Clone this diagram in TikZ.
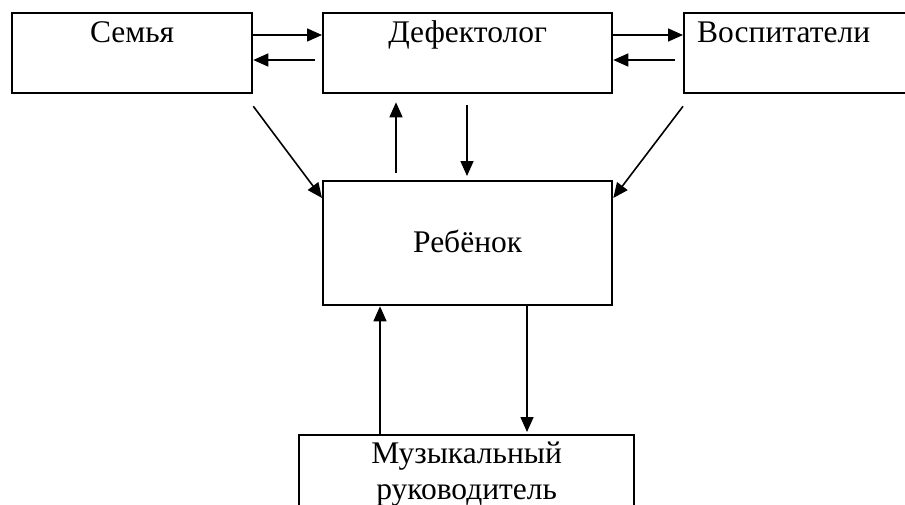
\documentclass[tikz,border=0pt]{standalone}
\usepackage{fontspec}
\setmainfont{Liberation Serif}
\usetikzlibrary{arrows.meta,calc}
\begin{document}
\begin{tikzpicture}[x=1pt,y=-1pt,
  box/.style={draw,line width=2.3pt,rectangle,inner sep=0pt,anchor=north west},
  arr/.style={line width=1.6pt,-{Triangle[length=15pt,width=13pt]}},
  lbl/.style={inner sep=0pt,font=\fontsize{31.5}{36}\selectfont}]
\useasboundingbox (0,0) rectangle (905,504);
\clip (0,0) rectangle (905,504);
\node[box,minimum width=240pt,minimum height=80pt] (semya) at (11,12) {};
\node[box,minimum width=289pt,minimum height=80pt] (def) at (322,12) {};
\node[box,minimum width=250pt,minimum height=80pt] (vosp) at (683,12) {};
\node[box,minimum width=289pt,minimum height=124pt] (reb) at (322,180) {};
\node[box,minimum width=335pt,minimum height=110pt] (muz) at (298,434) {};
% labels
\node[lbl,anchor=base] (tsemya) at ($(semya.north)+(0,30)$) {Семья};
\node[lbl,anchor=base] (tdef) at ($(def.north)+(0,30)$) {Дефектолог};
\node[lbl,anchor=base west] (tvosp) at ($(vosp.north west)+(14,30)$) {Воспитатели};
\node[lbl,anchor=base] (treb) at ($(reb.north)+(0,72)$) {Ребёнок};
\node[lbl,anchor=base] (tmuz1) at ($(muz.north)+(0,29)$) {Музыкальный};
\node[lbl,anchor=base] (tmuz2) at ($(muz.north)+(0,65)$) {руководитель};
% horizontal arrows
\draw[arr] ($(semya.north east)+(0,23)$) -- ($(def.north west)+(0,23)$);
\draw[arr] ($(def.north west)+(-7,48)$) -- ($(semya.north east)+(0,48)$);
\draw[arr] ($(def.north east)+(0,23)$) -- ($(vosp.north west)+(0,23)$);
\draw[arr] ($(vosp.north west)+(-8,48)$) -- ($(def.north east)+(0,48)$);
% diagonals
\draw[arr] ($(semya.south east)+(0,12)$) -- ($(reb.north west)+(0,18)$);
\draw[arr] ($(vosp.south west)+(0,12)$) -- ($(reb.north east)+(0,18)$);
% verticals def-reb
\draw[arr] ($(reb.north west)+(74,-7)$) -- ($(def.south west)+(74,8)$);
\draw[arr] ($(def.south west)+(145,11)$) -- ($(reb.north west)+(145,-4)$);
% verticals reb-muz
\draw[arr] ($(muz.north west)+(82,0)$) -- ($(reb.south west)+(58,0)$);
\draw[arr] ($(reb.south west)+(205,0)$) -- ($(muz.north west)+(229,-2)$);
\end{tikzpicture}
\end{document}
